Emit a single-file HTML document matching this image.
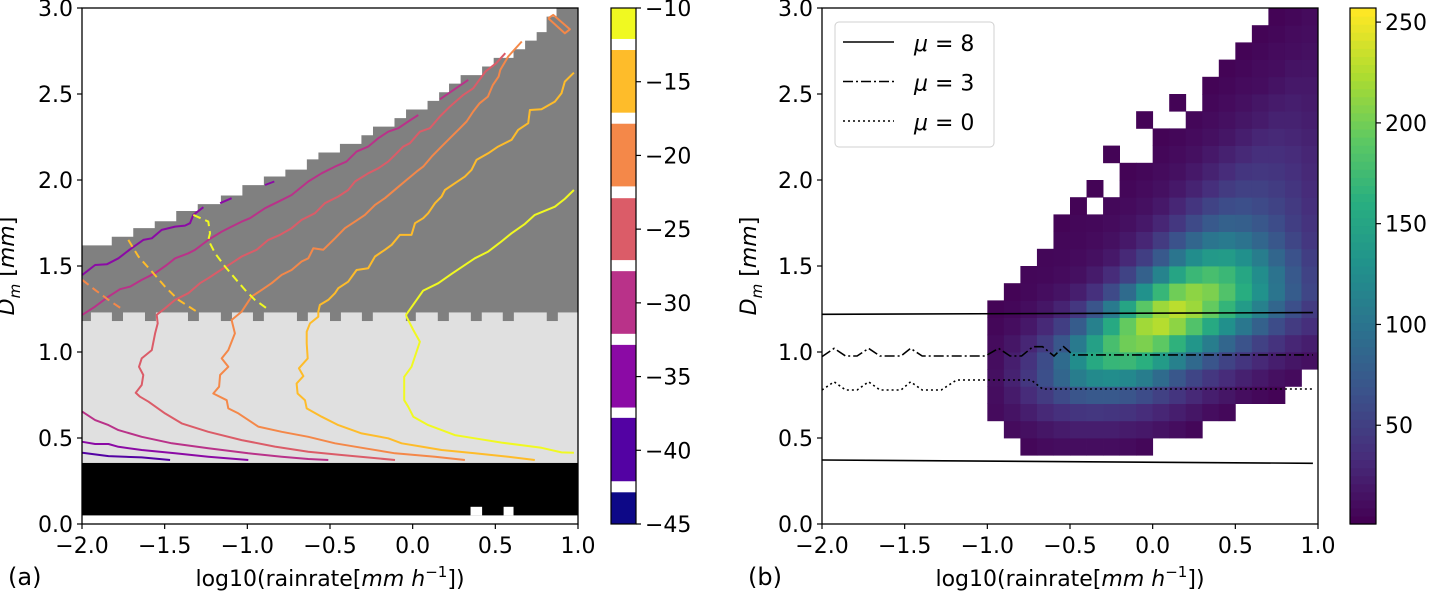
<!DOCTYPE html>
<html><head><meta charset="utf-8">
<style>
html,body{margin:0;padding:0;background:#fff;}
svg{display:block;font-family:"DejaVu Sans","Liberation Sans",sans-serif;}
</style></head>
<body>
<svg id="fig" width="1432" height="591" viewBox="0 0 1432 591" xmlns="http://www.w3.org/2000/svg">
<g id="pa"></g>
<g id="pb"></g>
<text x="8" y="585" font-size="24">(a)</text>
<text x="748" y="585" font-size="24">(b)</text>
</svg>
<script>
// ---------- shared data ----------
const yTicks = [0.0, 0.5, 1.0, 1.5, 2.0, 2.5, 3.0];
const xTicks = [-2.0, -1.5, -1.0, -0.5, 0.0, 0.5, 1.0];

// ---------- panel (a) data ----------
const stepX = [-2.0,-1.82,-1.69,-1.56,-1.43,-1.30,-1.16,-1.03,-0.90,-0.77,-0.64,-0.57,-0.44,-0.31,-0.24,-0.11,-0.04,0.09,0.16,0.22,0.29,0.42,0.49,0.61,0.68,0.75,0.81,0.87];
const stepTop = [1.62,1.67,1.72,1.76,1.82,1.86,1.91,1.97,2.02,2.06,2.12,2.16,2.21,2.26,2.31,2.36,2.41,2.46,2.51,2.56,2.61,2.66,2.71,2.76,2.81,2.86,2.95,3.0];
const notchX0 = [-2.0,-1.819,-1.619,-1.359,-1.16,-0.966,-0.7,-0.5,-0.307,-0.041,0.152,0.352,0.545,0.811];
const notchX1 = [-1.946,-1.752,-1.553,-1.293,-1.093,-0.9,-0.634,-0.434,-0.241,0.019,0.219,0.418,0.612,0.878];
const lightBand = [0.355, 1.23];
const blackBand = [0.05, 0.355];
const whiteNotchX0 = [0.35, 0.55];
const whiteNotchX1 = [0.42, 0.61];

const cLevels = [-10, -15, -20, -25, -30, -35, -40];
const cColors = ["#f0f921","#febc2a","#f48849","#db5c68","#b93289","#8b0aa5","#5302a3"];
const contourYellow = [[0.975,1.942],[0.92,1.89],[0.86,1.845],[0.739,1.797],[0.679,1.745],[0.598,1.69],[0.528,1.636],[0.457,1.584],[0.376,1.545],[0.235,1.454],[0.155,1.40],[0.064,1.357],[-0.04,1.216],[-0.037,1.205],[0.004,1.128],[0.044,1.06],[-0.007,0.914],[-0.051,0.856],[-0.051,0.72],[-0.027,0.682],[0.004,0.624],[0.094,0.575],[0.175,0.546],[0.255,0.517],[0.376,0.498],[0.538,0.473],[0.779,0.443],[0.9,0.416],[0.975,0.414]];
const contourYO = [[0.975,2.624],[0.92,2.572],[0.9,2.504],[0.86,2.456],[0.779,2.411],[0.709,2.407],[0.699,2.33],[0.638,2.291],[0.598,2.233],[0.517,2.194],[0.457,2.155],[0.386,2.117],[0.356,2.059],[0.316,2.02],[0.255,1.981],[0.195,1.942],[0.175,1.904],[0.135,1.865],[0.094,1.807],[0.064,1.778],[0.014,1.749],[-0.007,1.681],[-0.077,1.681],[-0.127,1.623],[-0.168,1.594],[-0.228,1.555],[-0.269,1.487],[-0.339,1.477],[-0.39,1.409],[-0.45,1.371],[-0.47,1.342],[-0.51,1.303],[-0.561,1.274],[-0.571,1.235],[-0.571,1.205],[-0.621,1.166],[-0.641,1.118],[-0.641,1.05],[-0.635,0.963],[-0.688,0.905],[-0.661,0.86],[-0.702,0.817],[-0.696,0.759],[-0.651,0.72],[-0.641,0.672],[-0.551,0.624],[-0.45,0.575],[-0.309,0.527],[-0.148,0.498],[-0.067,0.469],[0.054,0.45],[0.175,0.43],[0.376,0.411],[0.578,0.391],[0.739,0.372]];
const contourOrange = [[0.66,2.805],[0.578,2.718],[0.53,2.64],[0.52,2.601],[0.485,2.553],[0.455,2.485],[0.405,2.446],[0.366,2.398],[0.326,2.34],[0.286,2.301],[0.225,2.243],[0.165,2.185],[0.115,2.136],[0.064,2.078],[0.024,2.049],[-0.037,2.0],[-0.097,1.952],[-0.168,1.894],[-0.228,1.855],[-0.289,1.797],[-0.349,1.758],[-0.41,1.72],[-0.47,1.661],[-0.541,1.594],[-0.601,1.603],[-0.631,1.545],[-0.672,1.526],[-0.732,1.477],[-0.792,1.448],[-0.853,1.4],[-0.913,1.361],[-0.974,1.322],[-1.034,1.235],[-1.095,1.186],[-1.075,1.108],[-1.115,1.011],[-1.155,0.963],[-1.115,0.914],[-1.165,0.866],[-1.171,0.798],[-1.206,0.759],[-1.125,0.72],[-1.115,0.672],[-1.054,0.643],[-0.934,0.566],[-0.792,0.536],[-0.631,0.507],[-0.47,0.469],[-0.289,0.44],[-0.107,0.411],[0.135,0.391],[0.316,0.372]];
const contourRed = [[0.56,2.737],[0.505,2.679],[0.44,2.63],[0.366,2.533],[0.306,2.495],[0.225,2.427],[0.165,2.369],[0.104,2.301],[0.044,2.281],[-0.017,2.214],[-0.057,2.194],[-0.097,2.155],[-0.148,2.107],[-0.208,2.068],[-0.269,2.039],[-0.349,1.991],[-0.39,1.942],[-0.45,1.904],[-0.531,1.865],[-0.591,1.807],[-0.672,1.768],[-0.732,1.72],[-0.803,1.681],[-0.873,1.652],[-0.944,1.594],[-1.034,1.555],[-1.095,1.516],[-1.175,1.468],[-1.236,1.429],[-1.286,1.4],[-1.357,1.342],[-1.437,1.303],[-1.498,1.254],[-1.548,1.216],[-1.542,1.166],[-1.558,1.108],[-1.578,1.011],[-1.639,0.963],[-1.655,0.914],[-1.629,0.866],[-1.639,0.808],[-1.675,0.763],[-1.649,0.74],[-1.598,0.711],[-1.498,0.643],[-1.397,0.585],[-1.236,0.536],[-1.034,0.488],[-0.833,0.45],[-0.631,0.42],[-0.43,0.401],[-0.107,0.372]];
const contourMagenta = [[0.034,2.378],[-0.027,2.34],[-0.087,2.301],[-0.148,2.281],[-0.208,2.243],[-0.269,2.194],[-0.339,2.165],[-0.4,2.107],[-0.47,2.078],[-0.551,2.039],[-0.631,1.991],[-0.732,1.913],[-0.813,1.874],[-0.893,1.836],[-0.984,1.778],[-1.034,1.758],[-1.095,1.729],[-1.155,1.70],[-1.236,1.652],[-1.316,1.594],[-1.357,1.574],[-1.437,1.545],[-1.488,1.506],[-1.558,1.458],[-1.639,1.419],[-1.709,1.38],[-1.77,1.365],[-1.84,1.322],[-1.921,1.264],[-1.998,1.216]];
const contourMagentaSeg = [[0.165,2.469],[0.336,2.582]];
const contourMagentaLow = [[-1.998,0.653],[-1.921,0.604],[-1.84,0.575],[-1.78,0.546],[-1.639,0.507],[-1.457,0.469],[-1.236,0.44],[-0.994,0.411],[-0.792,0.391],[-0.631,0.378],[-0.51,0.372]];
const contourPurple = [[-1.998,1.448],[-1.921,1.506],[-1.85,1.51],[-1.78,1.545],[-1.709,1.597],[-1.629,1.652],[-1.578,1.661],[-1.518,1.71],[-1.437,1.729],[-1.377,1.735],[-1.347,1.749],[-1.327,1.797],[-1.266,1.842]];
const contourPurpleSeg1 = [[-1.165,1.865],[-1.095,1.894]];
const contourPurpleSeg2 = [[-0.893,1.971],[-0.837,1.991]];
const contourPurpleLow = [[-1.998,0.478],[-1.921,0.465],[-1.84,0.465],[-1.78,0.449],[-1.639,0.43],[-1.437,0.411],[-1.236,0.391],[-0.994,0.372]];
const contourIndigoLow = [[-1.998,0.414],[-1.84,0.395],[-1.639,0.387],[-1.467,0.372]];
const dashYellow = [[-1.327,1.797],[-1.236,1.758],[-1.226,1.69],[-1.236,1.652],[-1.195,1.574],[-1.135,1.497],[-1.075,1.429],[-1.014,1.361],[-0.954,1.303],[-0.883,1.254]];
const dashYO = [[-1.72,1.652],[-1.659,1.555],[-1.578,1.468],[-1.498,1.38],[-1.417,1.303],[-1.306,1.235]];
const dashOrange = [[-1.998,1.419],[-1.921,1.361],[-1.84,1.303],[-1.75,1.245]];
const blobOrange = [[0.82,2.94],[0.92,2.853],[0.951,2.876],[0.85,2.96],[0.82,2.94]];

const cbarBandLo = [-12.1,-17.1,-22.1,-27.1,-32.1,-37.1,-42.1,-45];
const cbarBandHi = [-10,-12.85,-17.85,-22.9,-27.85,-32.85,-37.8,-42.85];
const cbarColors = ["#f0f921","#febc2a","#f48849","#db5c68","#b93289","#8b0aa5","#5302a3","#0d0887"];
const cbarATicks = [-10,-15,-20,-25,-30,-35,-40,-45];

// ---------- panel (b) data ----------
const histX0 = -1.0, histDX = 0.1, histY0 = 0.4, histDY = 0.1;
const histRows = [ // rows bottom (0.4) to top (2.9); columns x=-1.0..0.9
[0,0,5,8,10,10,10,10,8,5,0,0,0,0,0,0,0,0,0,0],
[0,8,12,16,20,22,22,22,20,18,14,10,5,0,0,0,0,0,0,0],
[8,14,22,30,36,40,42,40,38,33,28,22,16,10,6,0,0,0,0,0],
[10,20,32,45,58,68,72,72,68,60,50,40,30,22,16,10,6,3,0,0],
[12,25,42,62,85,108,122,125,120,108,90,70,54,42,32,24,18,12,8,0],
[10,22,38,60,90,125,155,170,172,162,140,112,88,68,52,40,30,22,16,12],
[8,16,28,45,70,105,145,180,200,205,192,165,135,108,85,66,50,38,28,22],
[5,10,18,30,48,75,112,155,195,220,228,212,185,155,128,102,80,60,45,35],
[3,5,10,16,26,42,68,105,150,190,218,230,218,195,168,140,112,85,62,45],
[0,3,6,10,14,22,36,58,90,130,170,200,212,205,185,160,130,100,75,55],
[0,0,5,6,8,12,20,32,52,80,115,150,172,180,172,152,125,98,72,52],
[0,0,0,5,6,8,12,18,30,48,72,100,125,138,140,128,108,85,65,48],
[0,0,0,0,5,6,8,12,18,28,45,65,85,100,105,98,85,70,55,42],
[0,0,0,0,3,5,6,8,12,18,28,42,58,72,80,78,70,60,48,38],
[0,0,0,0,0,3,0,6,8,12,18,28,40,52,60,62,58,52,44,35],
[0,0,0,0,0,0,3,0,5,8,12,18,26,35,45,50,50,46,40,32],
[0,0,0,0,0,0,0,0,3,5,8,12,18,25,32,40,42,40,36,30],
[0,0,0,0,0,0,0,3,0,0,5,8,12,18,24,30,35,35,32,28],
[0,0,0,0,0,0,0,0,0,0,3,5,8,12,16,22,28,30,28,25],
[0,0,0,0,0,0,0,0,0,3,0,0,5,8,12,16,20,25,25,22],
[0,0,0,0,0,0,0,0,0,0,0,3,0,5,8,12,16,20,22,20],
[0,0,0,0,0,0,0,0,0,0,0,0,0,3,5,8,10,14,18,18],
[0,0,0,0,0,0,0,0,0,0,0,0,0,0,3,5,8,10,14,15],
[0,0,0,0,0,0,0,0,0,0,0,0,0,0,0,3,5,8,10,12],
[0,0,0,0,0,0,0,0,0,0,0,0,0,0,0,0,3,5,8,10],
[0,0,0,0,0,0,0,0,0,0,0,0,0,0,0,0,0,3,5,8]
];
const cbarBTicks = [50, 100, 150, 200, 250];
const vMin = 1, vMax = 257;
const mu8Top = [[-2.0,1.219],[0.969,1.229]];
const mu8Bot = [[-2.0,0.372],[0.969,0.353]];
const mu3 = [[-2.0,0.973],[-1.927,1.021],[-1.857,0.977],[-1.788,0.977],[-1.718,1.021],[-1.649,0.977],[-1.522,0.977],[-1.464,1.021],[-1.394,0.977],[-1.013,0.977],[-0.932,1.021],[-0.862,0.977],[-0.793,0.977],[-0.724,1.031],[-0.666,1.031],[-0.597,0.977],[-0.539,1.031],[-0.481,0.983],[0.969,0.983]];
const mu0 = [[-2.0,0.779],[-1.927,0.827],[-1.857,0.779],[-1.788,0.779],[-1.718,0.827],[-1.649,0.779],[-1.522,0.779],[-1.464,0.827],[-1.394,0.779],[-1.279,0.779],[-1.186,0.837],[-0.735,0.837],[-0.666,0.785],[0.969,0.785]];
const legendLabels = ["μ = 8", "μ = 3", "μ = 0"];

// ---------- helpers ----------
const NS = "http://www.w3.org/2000/svg";
function mk(tag, attrs, parent){
  const e = document.createElementNS(NS, tag);
  for (const k in attrs) e.setAttribute(k, attrs[k]);
  parent.appendChild(e);
  return e;
}
function axisFns(x0, x1, y0, y1){
  return {
    X: v => x0 + (v - (-2)) / 3 * (x1 - x0),
    Y: v => y0 - v / 3 * (y0 - y1)
  };
}
function fmt(v){ return (v < 0 ? "\u2212" : "") + Math.abs(v).toFixed(1); }
function pathOf(pts, A){ return pts.map((p,i)=>(i?"L":"M")+A.X(p[0]).toFixed(1)+","+A.Y(p[1]).toFixed(1)).join(""); }

function drawAxes(g, A, x0, x1, y0, y1, prefix, ylx){
  const fr = mk("rect", {x:x0, y:y1, width:x1-x0, height:y0-y1, fill:"none", stroke:"#000", "stroke-width":1.3}, g);
  
  
  yTicks.forEach(t=>{
    const y = A.Y(t);
    const tk = mk("line", {x1:x0-5, x2:x0, y1:y, y2:y, stroke:"#000", "stroke-width":1.2}, g);
    
    
    const tx = mk("text", {x:x0-9, y:y+8, "font-size":22, "text-anchor":"end"}, g);
    
    
    tx.textContent = fmt(t);
  });
  xTicks.forEach(t=>{
    const x = A.X(t);
    const tk = mk("line", {x1:x, x2:x, y1:y0, y2:y0+5, stroke:"#000", "stroke-width":1.2}, g);
    
    
    const tx = mk("text", {x:x, y:y0+29, "font-size":22, "text-anchor":"middle"}, g);
    
    
    tx.textContent = fmt(t);
  });
  const xl = mk("text", {x:(x0+x1)/2, y:586, "font-size":22, "text-anchor":"middle"}, g);
  
  
  xl.innerHTML = 'log10(rainrate[<tspan font-style="italic">mm h</tspan><tspan font-size="15" dy="-9">\u22121</tspan><tspan dy="9">])</tspan>';
  const yl = mk("text", {x:0, y:0, "font-size":22, "text-anchor":"middle", transform:`translate(${ylx},${(y0+y1)/2}) rotate(-90)`}, g);
  
  
  yl.innerHTML = '<tspan font-style="italic">D</tspan><tspan font-size="15" dy="6" font-style="italic">m</tspan><tspan dy="-6"> [</tspan><tspan font-style="italic">mm</tspan>]';
}

// ---------- panel a ----------
(function(){
  const g = document.getElementById("pa");
  const x0=82, x1=578, y0=524, y1=8;
  const A = axisFns(x0,x1,y0,y1);
  let d = "M"+A.X(-2)+","+A.Y(lightBand[1]);
  for (let i=0;i<stepX.length;i++){
    d += "L"+A.X(stepX[i])+","+A.Y(stepTop[i]);
    const nx = i+1<stepX.length ? stepX[i+1] : 1.0;
    d += "L"+A.X(nx)+","+A.Y(stepTop[i]);
  }
  d += "L"+A.X(1)+","+A.Y(lightBand[1])+"Z";
  const gm = mk("path",{d:d, fill:"#808080"}, g);
  
  
  const lb = mk("rect",{x:A.X(-2), y:A.Y(lightBand[1]), width:A.X(1)-A.X(-2), height:A.Y(lightBand[0])-A.Y(lightBand[1]), fill:"#e0e0e0"}, g);
  
  
  notchX0.forEach((a,i)=>{
    const r = mk("rect",{x:A.X(a), y:A.Y(lightBand[1])-0.5, width:A.X(notchX1[i])-A.X(a), height:A.Y(1.18)-A.Y(lightBand[1])+0.5, fill:"#808080"}, g);
    
    
  });
  const bb = mk("rect",{x:A.X(-2), y:A.Y(blackBand[1]), width:A.X(1)-A.X(-2), height:A.Y(blackBand[0])-A.Y(blackBand[1]), fill:"#000"}, g);
  
  
  whiteNotchX0.forEach((a,i)=>{
    const r = mk("rect",{x:A.X(a), y:A.Y(0.1), width:A.X(whiteNotchX1[i])-A.X(a), height:A.Y(blackBand[0])-A.Y(0.1), fill:"#fff"}, g);
    
    
  });
  const lines = [
    [contourYellow,0,""],[contourYO,1,""],[contourOrange,2,""],[contourRed,3,""],
    [contourMagenta,4,""],[contourMagentaSeg,4,""],[contourMagentaLow,4,""],
    [contourPurple,5,""],[contourPurpleSeg1,5,""],[contourPurpleSeg2,5,""],[contourPurpleLow,5,""],
    [contourIndigoLow,6,""],
    [dashYellow,0,"8,5"],[dashYO,1,"8,5"],[dashOrange,2,"8,5"],[blobOrange,2,""]
  ];
  lines.forEach(L=>{
    const p = mk("path",{d:pathOf(L[0],A), fill:"none", stroke:cColors[L[1]], "stroke-width":2, "stroke-linejoin":"round"}, g);
    if (L[2]) p.setAttribute("stroke-dasharray", L[2]);
    
    
  });
  drawAxes(g, A, x0, x1, y0, y1, "panel-a", 14);
  const cbx=611, cbw=25, cbTop=8, cbBot=524;
  const CY = v => cbTop + (-10 - v)/35*(cbBot-cbTop);
  cbarBandLo.forEach((lo,i)=>{
    const r = mk("rect",{x:cbx, y:CY(cbarBandHi[i]), width:cbw, height:CY(lo)-CY(cbarBandHi[i]), fill:cbarColors[i]}, g);
    
    
  });
  const cf = mk("rect",{x:cbx, y:cbTop, width:cbw, height:cbBot-cbTop, fill:"none", stroke:"#000", "stroke-width":1.2}, g);
  
  
  cbarATicks.forEach(t=>{
    const y = CY(t);
    const tk = mk("line",{x1:cbx+cbw, x2:cbx+cbw+5, y1:y, y2:y, stroke:"#000", "stroke-width":1.2}, g);
    
    
    const tx = mk("text",{x:cbx+cbw+9, y:y+8, "font-size":22}, g);
    
    
    tx.textContent = "\u2212" + Math.abs(t);
  });
})();

// ---------- panel b ----------
(function(){
  const g = document.getElementById("pb");
  const x0=822, x1=1318, y0=524, y1=8;
  const A = axisFns(x0,x1,y0,y1);
  const vstops = [[0,"#440154"],[0.125,"#472d7b"],[0.25,"#3b528b"],[0.375,"#2c728e"],[0.5,"#21918c"],[0.625,"#28ae80"],[0.75,"#5ec962"],[0.875,"#addc30"],[1,"#fde725"]];
  function hex(h){return [1,3,5].map(i=>parseInt(h.substr(i,2),16));}
  function viridis(t){
    t = Math.max(0, Math.min(1, t));
    for (let i=0;i<vstops.length-1;i++){
      if (t <= vstops[i+1][0]){
        const f = (t - vstops[i][0])/(vstops[i+1][0]-vstops[i][0]);
        const a = hex(vstops[i][1]), b = hex(vstops[i+1][1]);
        return "rgb("+a.map((c,k)=>Math.round(c+(b[k]-c)*f)).join(",")+")";
      }
    }
    return vstops[vstops.length-1][1];
  }
  histRows.forEach((row,r)=>{
    row.forEach((v,c)=>{
      if (!v) return;
      const xa = histX0 + c*histDX, ya = histY0 + r*histDY;
      const cell = mk("rect",{x:A.X(xa), y:A.Y(ya+histDY), width:A.X(xa+histDX)-A.X(xa)+0.4, height:A.Y(ya)-A.Y(ya+histDY)+0.4, fill:viridis((v-vMin)/(vMax-vMin))}, g);
      
      
    });
  });
  const series = [[mu8Top,"",0],[mu8Bot,"",0],[mu3,"10,3,2,3",1],[mu0,"2,3",2]];
  series.forEach(s=>{
    const p = mk("path",{d:pathOf(s[0],A), fill:"none", stroke:"#000", "stroke-width":1.6}, g);
    if (s[1]) p.setAttribute("stroke-dasharray", s[1]);
    
    
  });
  drawAxes(g, A, x0, x1, y0, y1, "panel-b", 756);
  const lg = mk("g",{}, g);
  
  
  const lbox = mk("rect",{x:835, y:22, width:159, height:125, rx:4, fill:"#fff", "fill-opacity":0.85, stroke:"#d0d0d0", "stroke-width":1}, lg);
  
  
  const dashes = ["","10,3,2,3","2,3"];
  legendLabels.forEach((lab,i)=>{
    const y = 42 + i*39.5;
    const ln = mk("line",{x1:843, x2:894, y1:y, y2:y, stroke:"#000", "stroke-width":1.6}, lg);
    if (dashes[i]) ln.setAttribute("stroke-dasharray", dashes[i]);
    
    
    const tx = mk("text",{x:914, y:y+9, "font-size":22}, lg);
    
    
    tx.innerHTML = '<tspan font-style="italic">μ</tspan>' + lab.slice(1);
  });
  const cbx=1350, cbw=26, cbTop=8, cbBot=524;
  const CY = v => cbBot - (v - vMin)/(vMax - vMin)*(cbBot-cbTop);
  const N = 64;
  for (let i=0;i<N;i++){
    const v0 = vMin + (vMax-vMin)*i/N, v1 = vMin + (vMax-vMin)*(i+1)/N;
    const r = mk("rect",{x:cbx, y:CY(v1), width:cbw, height:CY(v0)-CY(v1)+0.6, fill:viridis(i/(N-1))}, g);
    
    
  }
  const cf = mk("rect",{x:cbx, y:cbTop, width:cbw, height:cbBot-cbTop, fill:"none", stroke:"#000", "stroke-width":1.2}, g);
  
  
  cbarBTicks.forEach(t=>{
    const y = CY(t);
    const tk = mk("line",{x1:cbx+cbw, x2:cbx+cbw+5, y1:y, y2:y, stroke:"#000", "stroke-width":1.2}, g);
    
    
    const tx = mk("text",{x:cbx+cbw+9, y:y+8, "font-size":22}, g);
    
    
    tx.textContent = t;
  });
})();
</script>
</body></html>
